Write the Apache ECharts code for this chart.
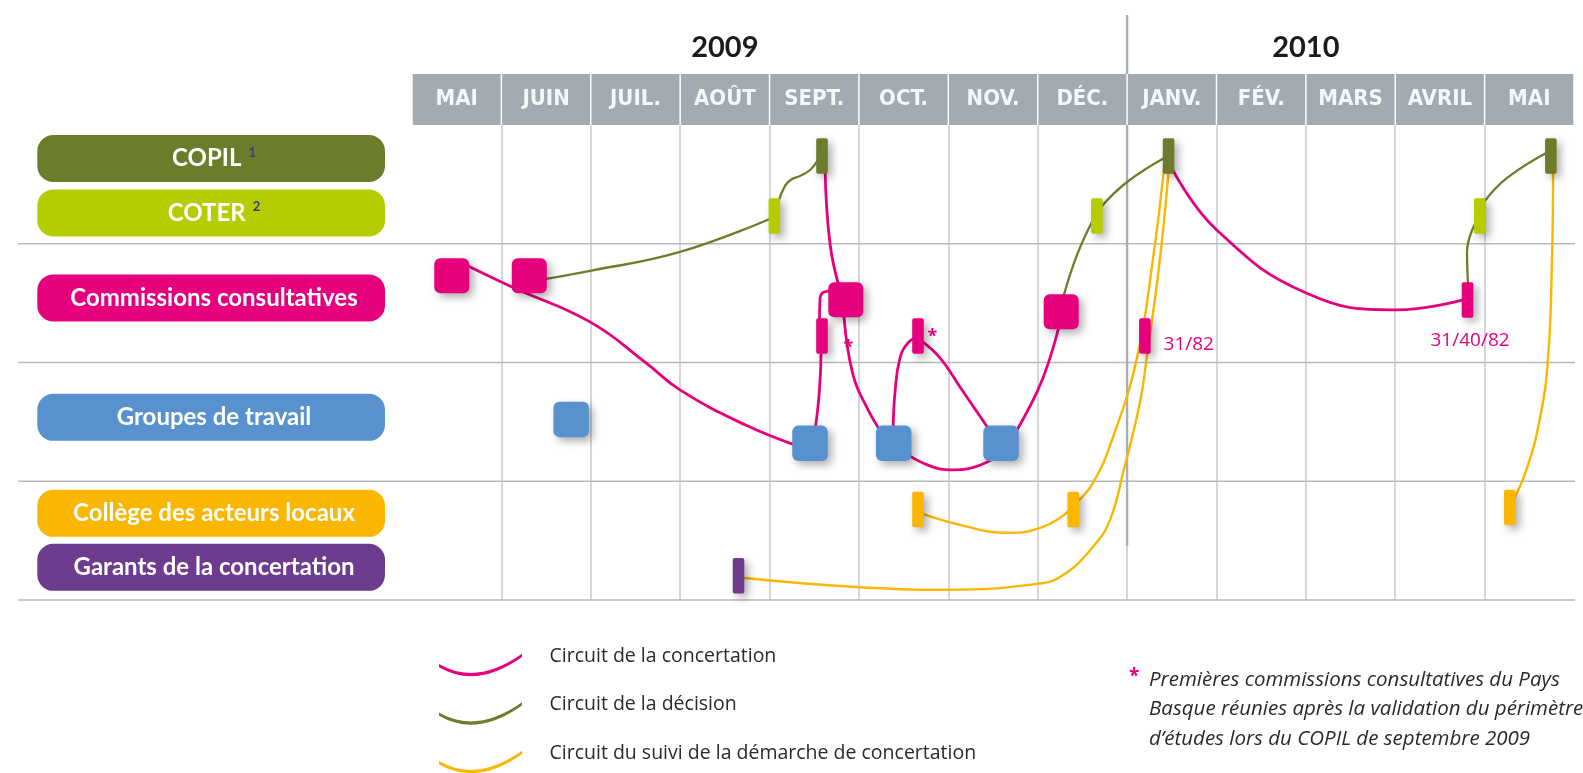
<!DOCTYPE html>
<html><head><meta charset="utf-8">
<script src="https://cdn.jsdelivr.net/npm/echarts@6/dist/echarts.min.js"></script>
<style>html,body{margin:0;padding:0;background:#fff}#c{width:1583px;height:773px}</style>
</head><body><div id="c"></div>
<script>
// ---------- DATA (x = months since start of May 2009, y = lane position, rows 0..4) ----------
const months = ['MAI','JUIN','JUIL.','AOÛT','SEPT.','OCT.','NOV.','DÉC.','JANV.','FÉV.','MARS','AVRIL','MAI'];
const yearLabels = ['2009','2010'];
const yearX = [3.5, 10.0];
const yearSplitX = [8];
const rowLines = [1, 2, 3, 4];
const lanes = ['COPIL','COTER','Commissions consultatives','Groupes de travail','Collège des acteurs locaux','Garants de la concertation'];
const laneNotes = ['1','2','','','',''];
const laneY = [0.282, 0.741, 1.456, 2.462, 3.270, 3.725];

const copilBars = [[4.587,0.261],[8.464,0.261],[12.741,0.261]];
const coterBars = [[4.054,0.766],[7.662,0.766],[11.946,0.766]];
const commissionSquares = [[0.445,1.269],[1.312,1.269],[4.853,1.471],[7.263,1.572]];
const commissionBars = [[4.587,1.776],[5.661,1.776],[8.199,1.776],[11.809,1.473]];
const groupeSquares = [[1.781,2.479],[4.453,2.681],[5.389,2.681],[6.590,2.681]];
const collegeBars = [[5.661,3.237],[7.398,3.237],[12.282,3.220]];
const garantBars = [[3.653,3.795]];

const notes = ['*','*','31/82','31/40/82'];
const notePos = [[5.821,1.740],[4.881,1.838],[8.690,1.852],[11.837,1.818]];

const circuits = ['Circuit de la concertation','Circuit de la décision','Circuit du suivi de la démarche de concertation'];

// concertation (pink)
const pink1 = [[0.515,1.145],[1.119,1.364],[1.991,1.658],[2.618,2.003],[2.998,2.231],[3.726,2.525],[4.341,2.710]];
const pink2 = [[4.621,0.362],[4.677,1.002],[4.789,1.389]];
const pink3 = [[4.509,2.568],[4.554,2.273],[4.576,1.911],[4.559,1.625],[4.565,1.465],[4.610,1.406],[4.710,1.397]];
const pink4 = [[4.833,1.616],[4.934,2.105],[5.091,2.382],[5.247,2.584]];
const pink5 = [[5.382,2.584],[5.404,2.248],[5.460,1.961],[5.549,1.835],[5.650,1.785]];
const pink6 = [[5.684,1.810],[5.907,1.961],[6.131,2.206],[6.321,2.416],[6.489,2.601]];
const pink7 = [[5.493,2.753],[5.795,2.871],[6.042,2.904],[6.299,2.879],[6.556,2.786]];
const pink8 = [[6.724,2.626],[6.993,2.248],[7.138,1.961],[7.261,1.625]];
const pink9 = [[8.505,0.370],[9.003,0.884],[10.010,1.417],[11.017,1.557],[11.759,1.473]];
// décision (green)
const green1 = [[1.432,1.305],[1.991,1.229],[2.998,1.069],[4.028,0.783]];
const green2 = [[4.095,0.657],[4.173,0.513],[4.252,0.455],[4.341,0.429],[4.453,0.379],[4.542,0.295]];
const green3 = [[7.284,1.456],[7.440,1.094],[7.619,0.800]];
const green4 = [[7.698,0.699],[8.000,0.480],[8.436,0.269]];
const green5 = [[11.815,1.347],[11.803,1.069],[11.915,0.800]];
const green6 = [[11.994,0.648],[12.251,0.446],[12.710,0.227]];
// suivi (yellow)
const yellow1 = [[5.684,3.266],[6.131,3.367],[6.657,3.434],[7.060,3.384],[7.362,3.241]];
const yellow2 = [[7.429,3.182],[7.619,3.013],[7.832,2.652],[8.111,1.961],[8.291,1.120],[8.414,0.362]];
const yellow3 = [[3.692,3.813],[4.923,3.889],[5.986,3.914],[6.993,3.864],[7.272,3.796],[7.619,3.552],[7.809,3.325],[7.955,2.929],[8.145,2.332],[8.224,1.936],[8.369,1.120],[8.470,0.337]];
const yellow4 = [[12.766,0.362],[12.754,1.120],[12.710,1.961],[12.620,2.466],[12.475,2.887],[12.307,3.182]];

// ---------- STYLE ----------
const C = {
  olive:'#6b7d2a', lime:'#b5cc00', pink:'#e6007e', blue:'#5891cd', orange:'#fbb600', purple:'#6e3c8f',
  header:'#a3aab2', vgrid:'#c9ced5', hgrid:'#b6b9bd', split:'#a7aeb6'
};
const laneColors = [C.olive, C.lime, C.pink, C.blue, C.orange, C.purple];
const circuitColors = [C.pink, '#6b7f2a', C.orange];
const circuitWidths = [2.8, 2.3, 2.4];
const condensed = "'Liberation Sans Narrow','DejaVu Sans Condensed','Roboto',sans-serif";

const chart = echarts.init(document.getElementById('c'), null, {renderer:'canvas', width:1583, height:773});

function markerSeries(data, color, w, h, r) {
  return {
    type:'custom', silent:true, z:6, clip:false, animation:false, data,
    renderItem:(p, api) => {
      const c = api.coord([api.value(0), api.value(1)]);
      return {type:'rect', shape:{x:c[0]-w/2, y:c[1]-h/2, width:w, height:h, r},
        style:{fill:color, shadowBlur:8, shadowColor:'rgba(0,0,0,0.32)', shadowOffsetX:4, shadowOffsetY:4}};
    }
  };
}
function curve(points, k) {
  return {type:'line', name:circuits[k], data:points, smooth:0.45, symbol:'none', showSymbol:false,
    lineStyle:{color:circuitColors[k], width:circuitWidths[k]}, itemStyle:{color:circuitColors[k]},
    z:3, silent:true, animation:false};
}

const series = [
  // horizontal row lines, extending under the lane labels
  {type:'custom', silent:true, clip:false, z:1, animation:false, data:rowLines.map(v=>[0,v]),
    renderItem:(p, api) => {
      const a = api.coord([0, api.value(1)]), b = api.coord([13, api.value(1)]);
      return {type:'line', shape:{x1:18, y1:a[1], x2:b[0]+1, y2:b[1]}, style:{stroke:C.hgrid, lineWidth:1.6}};
    }},
  // 2009 / 2010 split line
  {type:'custom', silent:true, clip:false, z:2, animation:false, data:yearSplitX.map(v=>[v,0]),
    renderItem:(p, api) => {
      const top = api.coord([api.value(0), 0]), bot = api.coord([api.value(0), 3.544]);
      return {type:'group', children:[
        {type:'line', shape:{x1:top[0], y1:top[1]-110, x2:top[0], y2:top[1]-51}, style:{stroke:C.split, lineWidth:2.4}},
        {type:'line', shape:{x1:top[0], y1:top[1], x2:bot[0], y2:bot[1]}, style:{stroke:C.split, lineWidth:2.4}}
      ]};
    }},
  // year labels
  {type:'custom', silent:true, clip:false, z:2, animation:false, data:yearX.map(v=>[v,0]),
    renderItem:(p, api) => {
      const c = api.coord([api.value(0), 0]);
      return {type:'text', style:{x:c[0], y:c[1]-77, text:yearLabels[p.dataIndex], align:'center', verticalAlign:'middle',
        fill:'#1b1b1b', font:"bold 29px Lato, 'Noto Sans', sans-serif"}};
    }},
  // lane labels
  {type:'custom', silent:true, clip:false, z:4, animation:false, data:laneY.map(v=>[0,v]),
    renderItem:(p, api) => {
      const i = p.dataIndex;
      const cy = api.coord([0, api.value(1)])[1];
      const txt = laneNotes[i] ? '{m|' + lanes[i] + '}{s|' + laneNotes[i] + '}' : '{m|' + lanes[i] + '}';
      return {type:'group', children:[
        {type:'rect', shape:{x:37.3, y:cy-23.5, width:347.7, height:47, r:16}, style:{fill:laneColors[i]}},
        {type:'text', style:{x:214, y:cy, text:txt, align:'center', verticalAlign:'middle',
          rich:{
            m:{fontSize:24, fontWeight:'bold', fontFamily:'Lato', fill:'#ffffff'},
            s:{fontSize:13, fontWeight:'bold', fontFamily:'Lato', fill:'#3c3f80', padding:[0,0,12,7]}
          }}}
      ]};
    }},
  curve(pink1,0), curve(pink2,0), curve(pink3,0), curve(pink4,0), curve(pink5,0), curve(pink6,0), curve(pink7,0), curve(pink8,0), curve(pink9,0),
  curve(green1,1), curve(green2,1), curve(green3,1), curve(green4,1), curve(green5,1), curve(green6,1),
  curve(yellow1,2), curve(yellow2,2), curve(yellow3,2), curve(yellow4,2),
  markerSeries(copilBars, C.olive, 11.6, 35.5, 2),
  markerSeries(coterBars, C.lime, 11.6, 35.5, 2),
  markerSeries(commissionBars, C.pink, 11.6, 35.5, 2),
  markerSeries(collegeBars, C.orange, 11.6, 35.5, 2),
  markerSeries(garantBars, C.purple, 11.6, 35.5, 2),
  markerSeries(commissionSquares, C.pink, 35, 35, 6),
  markerSeries(groupeSquares, C.blue, 35.5, 35.5, 6),
  // annotations
  {type:'custom', silent:true, clip:false, z:7, animation:false, data:notePos,
    renderItem:(p, api) => {
      const c = api.coord([api.value(0), api.value(1)]);
      const t = notes[p.dataIndex];
      const star = t === '*';
      return {type:'text', style:{x:c[0], y:c[1] + (star ? 5 : 0), text:t, align:'center', verticalAlign:'middle', fill:C.pink,
        font: star ? "bold 18px 'Open Sans', sans-serif" : "19px 'Open Sans', sans-serif"}};
    }}
];

// arc icon; the tiny first sub-path only widens the icon box upward so the arc sits below the text middle
const crescent = 'path://M0,-18 L0.01,-18 L0,-17.99 Z M0,10.4 Q38,32.5 84,0 L84,3.2 Q38,36 0,13.6 Z';

chart.setOption({
  animation:false,
  backgroundColor:'#ffffff',
  grid:{left:412, right:9, top:125, bottom:173, containLabel:false},
  xAxis:[
    {type:'value', min:0, max:13, interval:1, axisLine:{show:false}, axisTick:{show:false}, axisLabel:{show:false},
      splitLine:{show:true, showMinLine:false, showMaxLine:false, lineStyle:{color:C.vgrid, width:1.6}}},
    {type:'category', data:months, position:'top', boundaryGap:true, axisLine:{show:false}, axisTick:{show:false},
      splitLine:{show:false},
      axisLabel:{interval:0, margin:0, color:'#f6f7f8', fontFamily:condensed, fontWeight:'bold', fontSize:22,
        backgroundColor:C.header, width:87.9, height:51, lineHeight:51, align:'center', verticalAlign:'bottom'}}
  ],
  yAxis:{type:'value', min:0, max:4, inverse:true, show:false, splitLine:{show:false}},
  legend:{
    data:circuits, orient:'vertical', left:439, top:636, height:170, padding:0, itemWidth:84, itemHeight:40.2, itemGap:8.3,
    icon:crescent, selectedMode:false, itemStyle:{borderWidth:0},
    textStyle:{fontFamily:"'Open Sans', sans-serif", fontSize:19.5, color:'#2a2a2a', padding:[0,0,0,22]}
  },
  graphic:[
    {type:'text', left:1129, top:667, style:{text:'*', fill:C.pink, font:"bold 19px 'Open Sans', sans-serif"}},
    {type:'text', left:1149, top:665, style:{text:'Premières commissions consultatives du Pays\nBasque réunies après la validation du périmètre\nd’études lors du COPIL de septembre 2009',
      fill:'#2a2a2a', font:"italic 20.5px 'Open Sans', sans-serif", lineHeight:29.5}}
  ],
  series
});
</script>
</body></html>
